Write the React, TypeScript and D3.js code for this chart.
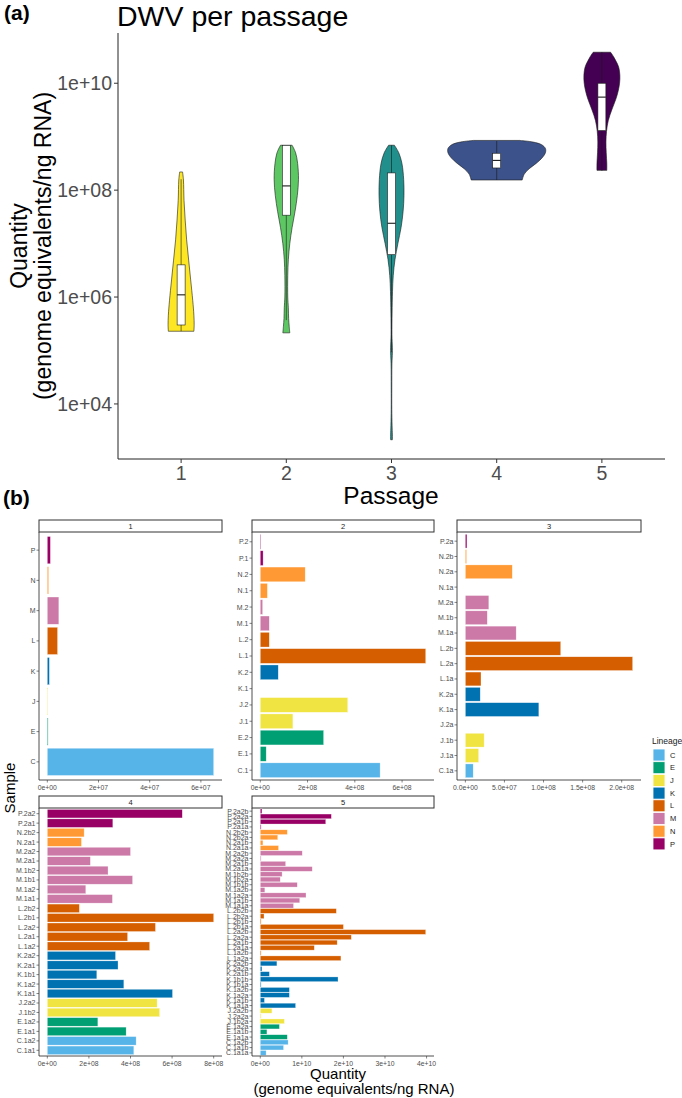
import * as d3 from "d3";

const FONT = "'Liberation Sans', Arial, Helvetica, sans-serif";
const GREY = "#4D4D4D";

// ---------- panel (a): DWV per passage ----------
const PASSAGES = ["1", "2", "3", "4", "5"];
const PASSAGE_COLORS = ["#FDE725", "#5DC863", "#21908C", "#3B528B", "#440154"];

// violin outlines: [log10 quantity, density]
const VIOLIN_1 = [[8.34, 0.05], [8.19, 0.08], [7.81, 0.1], [7.44, 0.14], [7.07, 0.19], [6.69, 0.26], [6.32, 0.33], [5.94, 0.4], [5.66, 0.44], [5.48, 0.45], [5.36, 0.44]];
const VIOLIN_2 = [[8.84, 0.2], [8.7, 0.32], [8.5, 0.39], [8.2, 0.42], [7.9, 0.38], [7.6, 0.3], [7.3, 0.2], [7.0, 0.12], [6.7, 0.07], [6.4, 0.05], [6.0, 0.05], [5.8, 0.07], [5.6, 0.08], [5.45, 0.1], [5.33, 0.12]];
const VIOLIN_3 = [[8.84, 0.1], [8.7, 0.25], [8.5, 0.36], [8.2, 0.42], [7.9, 0.43], [7.6, 0.4], [7.3, 0.33], [7.0, 0.22], [6.7, 0.12], [6.4, 0.06], [6.1, 0.035], [5.7, 0.02], [5.3, 0.015], [5.05, 0.03], [4.95, 0.03], [4.75, 0.015], [4.3, 0.01], [3.9, 0.01], [3.6, 0.02], [3.42, 0.03], [3.33, 0.03]];
const VIOLIN_4 = [[8.93, 0.8], [8.9, 1.25], [8.85, 1.55], [8.78, 1.68], [8.7, 1.68], [8.6, 1.56], [8.5, 1.36], [8.4, 1.12], [8.3, 0.95], [8.19, 0.88]];
const VIOLIN_5 = [[10.58, 0.3], [10.5, 0.4], [10.4, 0.5], [10.3, 0.58], [10.15, 0.62], [10.0, 0.61], [9.85, 0.56], [9.7, 0.48], [9.5, 0.34], [9.3, 0.22], [9.1, 0.16], [8.9, 0.14], [8.7, 0.15], [8.5, 0.17], [8.37, 0.17]];
const VIOLINS = [VIOLIN_1, VIOLIN_2, VIOLIN_3, VIOLIN_4, VIOLIN_5];

// boxplot stats per passage
const BOX_LOW = [2.3e5, 3.7e5, 9.3e4, 1.55e8, 2.3e8];
const BOX_Q1 = [3.0e5, 3.4e7, 6.2e6, 2.6e8, 1.3e9];
const BOX_MED = [1.1e6, 1.2e8, 2.4e7, 3.6e8, 5.5e9];
const BOX_Q3 = [4.0e6, 6.9e8, 2.1e8, 4.9e8, 1.0e10];
const BOX_HIGH = [1.6e8, 6.9e8, 6.9e8, 8.3e8, 3.8e10];

const Y_TICKS = [1e4, 1e6, 1e8, 1e10];
const Y_TICK_LABELS = ["1e+04", "1e+06", "1e+08", "1e+10"];

// ---------- panel (b): per-sample quantities ----------
const LINEAGES = ["C", "E", "J", "K", "L", "M", "N", "P"];
const LINEAGE_COLORS = ["#56B4E9", "#009E73", "#F0E442", "#0072B2", "#D55E00", "#CC79A7", "#FF9933", "#990066"];

const F1_SAMPLES = ["P", "N", "M", "L", "K", "J", "E", "C"];
const F1_VALUES = [1.2e6, 5e5, 4.5e6, 4e6, 8e5, 2e5, 3e5, 6.5e7];
const F1_TICKS = [0, 2e7, 4e7, 6e7];

const F2_SAMPLES = ["P.2", "P.1", "N.2", "N.1", "M.2", "M.1", "L.2", "L.1", "K.2", "K.1", "J.2", "J.1", "E.2", "E.1", "C.1"];
const F2_VALUES = [2e6, 1.2e7, 1.9e8, 3e7, 1e7, 3.8e7, 3.8e7, 7.0e8, 7.6e7, 0, 3.7e8, 1.38e8, 2.68e8, 2.5e7, 5.07e8];
const F2_TICKS = [0, 2e8, 4e8, 6e8];

const F3_SAMPLES = ["P.2a", "N.2b", "N.2a", "N.1a", "M.2a", "M.1b", "M.1a", "L.2b", "L.2a", "L.1a", "K.2a", "K.1a", "J.2a", "J.1b", "J.1a", "C.1a"];
const F3_VALUES = [2e6, 1.5e6, 6.0e7, 0, 3.0e7, 2.8e7, 6.5e7, 1.22e8, 2.14e8, 2.0e7, 1.9e7, 9.4e7, 0, 2.4e7, 1.7e7, 1.0e7];
const F3_TICKS = [0, 5e7, 1e8, 1.5e8, 2e8];

const F4_SAMPLES = ["P.2a2", "P.2a1", "N.2b2", "N.2a1", "M.2a2", "M.2a1", "M.1b2", "M.1b1", "M.1a2", "M.1a1", "L.2b2", "L.2b1", "L.2a2", "L.2a1", "L.1a2", "K.2a2", "K.2a1", "K.1b1", "K.1a2", "K.1a1", "J.2a2", "J.1b2", "E.1a2", "E.1a1", "C.1a2", "C.1a1"];
const F4_VALUES = [6.49e8, 3.15e8, 1.77e8, 1.64e8, 4.0e8, 2.07e8, 2.92e8, 4.1e8, 1.85e8, 3.13e8, 1.54e8, 8.0e8, 5.2e8, 3.86e8, 4.92e8, 3.28e8, 3.4e8, 2.38e8, 3.68e8, 6.02e8, 5.28e8, 5.4e8, 2.43e8, 3.79e8, 4.27e8, 4.16e8];
const F4_TICKS = [0, 2e8, 4e8, 6e8, 8e8];

const F5_SAMPLES = ["P.2a2b", "P.2a2a", "P.2a1b", "P.2a1a", "N.2b2b", "N.2b2a", "N.2a1b", "N.2a1a", "M.2a2b", "M.2a2a", "M.2a1b", "M.2a1a", "M.1b2b", "M.1b2a", "M.1b1b", "M.1a2b", "M.1a2a", "M.1a1b", "M.1a1a", "L.2b2b", "L.2b2a", "L.2b1b", "L.2b1a", "L.2a2b", "L.2a2a", "L.2a1b", "L.2a1a", "L.1a2b", "L.1a2a", "K.2a2b", "K.2a2a", "K.2a1b", "K.1b1b", "K.1b1a", "K.1a2b", "K.1a2a", "K.1a1b", "K.1a1a", "J.2a2b", "J.2a2a", "J.1b2a", "E.1a2a", "E.1a1b", "E.1a1a", "C.1a2b", "C.1a1b", "C.1a1a"];
const F5_VALUES = [0.04e10, 1.71e10, 1.575e10, 0.02e10, 0.65e10, 0.42e10, 0.064e10, 0.44e10, 1.01e10, 0.02e10, 0.61e10, 1.25e10, 0.525e10, 0.48e10, 0.89e10, 0.11e10, 1.1e10, 0.95e10, 0.8e10, 1.83e10, 0.09e10, 0.02e10, 2.0e10, 3.98e10, 2.19e10, 1.85e10, 1.3e10, 0.02e10, 1.94e10, 0.4e10, 0.04e10, 0.22e10, 1.87e10, 0.02e10, 0.7e10, 0.7e10, 0.1e10, 0.85e10, 0.28e10, 0.02e10, 0.58e10, 0.46e10, 0.16e10, 0.65e10, 0.67e10, 0.56e10, 0.14e10];
const F5_TICKS = [0, 1e10, 2e10, 3e10, 4e10];

function sci(v: number, digits: number) {
  const [m, e] = v.toExponential(digits).split("e");
  const n = Math.abs(+e);
  return `${m}e${+e < 0 ? "-" : "+"}${n < 10 ? "0" + n : n}`;
}

const colorOf = d3.scaleOrdinal<string, string>().domain(LINEAGES).range(LINEAGE_COLORS);

type FacetProps = {
  title: string;
  samples: string[];
  values: number[];
  ticks: number[];
  digits: number;
  box: { left: number; right: number; top: number; bottom: number };
};

function Facet({ title, samples, values, ticks, digits, box }: FacetProps) {
  const max = d3.max(values) as number;
  const x = d3.scaleLinear().domain([-0.05 * max, 1.05 * max]).range([box.left, box.right]);
  const y = d3.scaleBand().domain(samples).range([box.top, box.bottom]).paddingInner(0.1).paddingOuter(0.15);
  return (
    <g>
      <rect x={box.left} y={box.top - 12} width={box.right - box.left} height={12} fill="#fff" stroke="#333" strokeWidth={1} />
      <text x={(box.left + box.right) / 2} y={box.top - 3.3} fontSize={7.5} textAnchor="middle" fill="#1A1A1A">{title}</text>
      {samples.map((s, i) =>
        values[i] > 0 ? (
          <rect key={s} x={x(0)} y={y(s)} width={x(values[i]) - x(0)} height={y.bandwidth()}
            fill={colorOf(s[0])} stroke="#fff" strokeOpacity={0.6} strokeWidth={0.5} />
        ) : null
      )}
      <line x1={box.left} x2={box.left} y1={box.top} y2={box.bottom} stroke="#222" strokeWidth={0.8} />
      <line x1={box.left} x2={box.right} y1={box.bottom} y2={box.bottom} stroke="#222" strokeWidth={0.8} />
      {samples.map((s) => {
        const cy = (y(s) as number) + y.bandwidth() / 2;
        return (
          <g key={s}>
            <line x1={box.left - 2.5} x2={box.left} y1={cy} y2={cy} stroke="#333" strokeWidth={0.6} />
            <text x={box.left - 3.5} y={cy} dy="0.35em" fontSize={7} textAnchor="end" fill={GREY}>{s}</text>
          </g>
        );
      })}
      {ticks.map((t) => (
        <g key={t}>
          <line x1={x(t)} x2={x(t)} y1={box.bottom} y2={box.bottom + 2.5} stroke="#333" strokeWidth={0.6} />
          <text x={x(t)} y={box.bottom + 9.5} fontSize={6.8} textAnchor="middle" fill={GREY}>{sci(t, digits)}</text>
        </g>
      ))}
    </g>
  );
}

export default function App() {
  // panel (a) scales
  const x = d3.scalePoint().domain(PASSAGES).range([118, 665]).padding(0.6);
  const y = d3.scaleLog().domain([10 ** 2.97, 10 ** 10.94]).range([459, 33]);
  const w = d3.scaleLinear().domain([0, 1]).range([0, 29]);

  return (
    <div style={{ position: "absolute", left: 0, top: 0 }}>
      <svg width={682} height={1098} style={{ display: "block", fontFamily: FONT }}>
        <rect width={682} height={1098} fill="#fff" />

        {/* ---------- panel (a) ---------- */}
        <text x={4} y={20} fontSize={21} fontWeight="bold">(a)</text>
        <text x={117} y={26} fontSize={28.5}>DWV per passage</text>

        {PASSAGES.map((p, i) => {
          const cx = x(p) as number;
          const area = d3
            .area<number[]>()
            .y((d) => y(10 ** d[0]))
            .x0((d) => cx - w(d[1]))
            .x1((d) => cx + w(d[1]))
            .curve(d3.curveCatmullRom);
          const bw = 4;
          return (
            <g key={p}>
              <path d={area(VIOLINS[i]) as string} fill={PASSAGE_COLORS[i]} stroke="#1a1a1a" strokeWidth={0.6} />
              <line x1={cx} x2={cx} y1={y(BOX_HIGH[i])} y2={y(BOX_Q3[i])} stroke="#1a1a1a" strokeWidth={0.6} />
              <line x1={cx} x2={cx} y1={y(BOX_Q1[i])} y2={y(BOX_LOW[i])} stroke="#1a1a1a" strokeWidth={0.6} />
              <rect x={cx - bw} y={y(BOX_Q3[i])} width={bw * 2} height={y(BOX_Q1[i]) - y(BOX_Q3[i])} fill="#fff" stroke="#1a1a1a" strokeWidth={0.6} />
              <line x1={cx - bw} x2={cx + bw} y1={y(BOX_MED[i])} y2={y(BOX_MED[i])} stroke="#1a1a1a" strokeWidth={1.1} />
            </g>
          );
        })}

        <line x1={118} x2={118} y1={33} y2={459} stroke="#222" strokeWidth={1} />
        <line x1={118} x2={665} y1={459} y2={459} stroke="#222" strokeWidth={1} />
        {Y_TICKS.map((t, i) => (
          <g key={t}>
            <line x1={114} x2={118} y1={y(t)} y2={y(t)} stroke="#333" />
            <text x={112} y={y(t)} dy="0.35em" fontSize={19.5} textAnchor="end" fill={GREY}>{Y_TICK_LABELS[i]}</text>
          </g>
        ))}
        {PASSAGES.map((p) => (
          <g key={p}>
            <line x1={x(p)} x2={x(p)} y1={459} y2={463} stroke="#333" />
            <text x={x(p)} y={480} fontSize={19.5} textAnchor="middle" fill={GREY}>{p}</text>
          </g>
        ))}
        <text x={391} y={504} fontSize={24.5} textAnchor="middle">Passage</text>
        <text transform="translate(27,246) rotate(-90)" fontSize={23} textAnchor="middle">Quantity</text>
        <text transform="translate(51,246) rotate(-90)" fontSize={23} textAnchor="middle">(genome equivalents/ng RNA)</text>

        {/* ---------- panel (b) ---------- */}
        <text x={3} y={505} fontSize={21} fontWeight="bold">(b)</text>
        <Facet title="1" samples={F1_SAMPLES} values={F1_VALUES} ticks={F1_TICKS} digits={0} box={{ left: 39, right: 222, top: 532, bottom: 780 }} />
        <Facet title="2" samples={F2_SAMPLES} values={F2_VALUES} ticks={F2_TICKS} digits={0} box={{ left: 252, right: 434, top: 532, bottom: 780 }} />
        <Facet title="3" samples={F3_SAMPLES} values={F3_VALUES} ticks={F3_TICKS} digits={1} box={{ left: 457, right: 641, top: 532, bottom: 780 }} />
        <Facet title="4" samples={F4_SAMPLES} values={F4_VALUES} ticks={F4_TICKS} digits={0} box={{ left: 39, right: 222, top: 808, bottom: 1056 }} />
        <Facet title="5" samples={F5_SAMPLES} values={F5_VALUES} ticks={F5_TICKS} digits={0} box={{ left: 252, right: 434, top: 808, bottom: 1056 }} />

        <text transform="translate(15,788) rotate(-90)" fontSize={15} textAnchor="middle">Sample</text>
        <text x={338} y={1079} fontSize={15} textAnchor="middle">Quantity</text>
        <text x={354} y={1094} fontSize={15} textAnchor="middle">(genome equivalents/ng RNA)</text>

        {/* legend */}
        <text x={652} y={744} fontSize={8.5} fill="#1A1A1A">Lineage</text>
        {LINEAGES.map((l, i) => (
          <g key={l}>
            <rect x={653} y={749 + i * 12.7} width={12} height={12} fill={colorOf(l)} stroke="#fff" strokeWidth={0.8} />
            <text x={670} y={749 + i * 12.7 + 6} dy="0.35em" fontSize={7.5} fill="#1A1A1A">{l}</text>
          </g>
        ))}
      </svg>
    </div>
  );
}
